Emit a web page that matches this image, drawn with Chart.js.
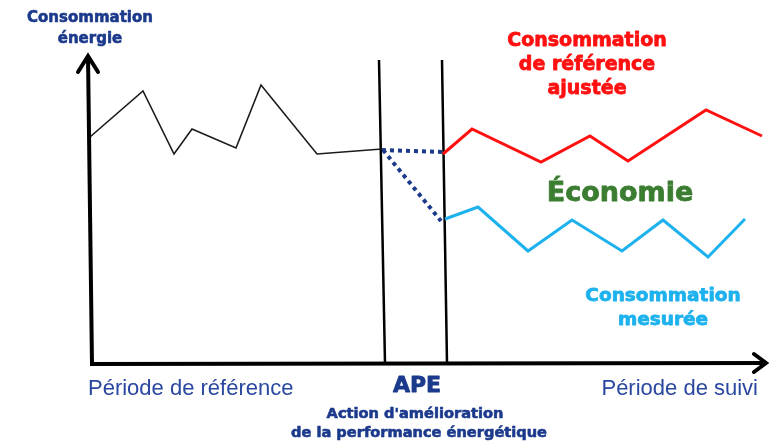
<!DOCTYPE html>
<html>
<head>
<meta charset="utf-8">
<script src="https://cdn.jsdelivr.net/npm/chart.js@4"></script>
<style>
  html, body { margin: 0; padding: 0; background: #ffffff; }
  #wrap { width: 769px; height: 441px; position: relative; }
</style>
</head>
<body>
<div id="wrap"><canvas id="c" width="769" height="441"></canvas></div>
<script>
// Time (x) and energy consumption (y) (arbitrary units)
const baselineX = [0, 53, 84, 102, 146, 171, 227, 292];
const baselineY = [226, 272, 209, 234, 215, 278, 209, 214];

const adjustedX = [353, 382, 451, 500, 538, 616, 672];
const adjustedY = [209, 234, 201, 227, 202, 253, 227];

const measuredX = [355, 388, 438, 482, 532, 573, 618, 655];
const measuredY = [144, 156, 112, 143, 112, 143, 106, 144];

const projFlatX = [292, 352];
const projFlatY = [213, 211];
const projDropX = [293, 351];
const projDropY = [213, 142];

const apeStartX = [289, 295];
const apeStartY = [303, 0];
const apeEndX = [352, 357];
const apeEndY = [303, 0];

const xMax = 678;
const yMax = 308;

const yAxisTitle = ["Consommation", "énergie"];
const adjustedLabel = ["Consommation", "de référence", "ajustée"];
const savingLabel = "Économie";
const measuredLabel = ["Consommation", "mesurée"];
const refPeriodLabel = "Période de référence";
const followPeriodLabel = "Période de suivi";
const apeLabel = "APE";
const apeDesc = ["Action d'amélioration", "de la performance énergétique"];

function pts(xs, ys) { return xs.map((x, i) => ({ x: x, y: ys[i] })); }

const NAVY = '#1c3a8c';
const RED = '#ff1010';
const SKY = '#1db2ee';
const GREEN = '#3b7d31';

function heavyText(ctx, t, x, y, color, w) {
  ctx.fillStyle = color;
  ctx.strokeStyle = color;
  ctx.lineWidth = w;
  ctx.lineJoin = 'round';
  ctx.fillText(t, x, y);
  ctx.strokeText(t, x, y);
}

const decor = {
  id: 'decor',
  afterDatasetsDraw(chart) {
    const ctx = chart.ctx;
    const xs = chart.scales.x, ys = chart.scales.y;
    const x0 = xs.getPixelForValue(0), y0 = ys.getPixelForValue(0);
    const xEnd = xs.getPixelForValue(xMax), yTop = ys.getPixelForValue(yMax);
    ctx.save();
    // axes
    ctx.strokeStyle = '#000';
    ctx.lineWidth = 4;
    ctx.lineCap = 'butt';
    ctx.lineJoin = 'miter';
    ctx.beginPath();
    ctx.moveTo(x0 + 2, y0 + 2);
    ctx.lineTo(x0 - 2, yTop + 1);
    ctx.stroke();
    ctx.beginPath();
    ctx.moveTo(x0, y0 + 1);
    ctx.lineTo(xEnd - 2, y0);
    ctx.stroke();
    // arrow heads
    ctx.lineWidth = 4;
    ctx.lineCap = 'round';
    ctx.beginPath();
    ctx.moveTo(x0 - 12, yTop + 17);
    ctx.lineTo(x0 - 2, yTop + 1);
    ctx.lineTo(x0 + 8, yTop + 17);
    ctx.stroke();
    ctx.beginPath();
    ctx.moveTo(xEnd - 14, y0 - 9);
    ctx.lineTo(xEnd - 2, y0);
    ctx.lineTo(xEnd - 14, y0 + 9);
    ctx.stroke();

    // texts
    ctx.textAlign = 'center';
    ctx.textBaseline = 'alphabetic';
    ctx.font = 'bold 15px "DejaVu Sans"';
    heavyText(ctx, yAxisTitle[0], 90, 22, NAVY, 0.6);
    heavyText(ctx, yAxisTitle[1], 90, 43, NAVY, 0.6);

    ctx.font = 'bold 19px "DejaVu Sans"';
    adjustedLabel.forEach((t, i) => heavyText(ctx, t, 587, 46 + i * 24, RED, 0.8));

    ctx.font = 'bold 27px "DejaVu Sans"';
    heavyText(ctx, savingLabel, 620, 201, GREEN, 0.8);

    ctx.font = 'bold 18.5px "DejaVu Sans"';
    heavyText(ctx, measuredLabel[0], 663, 301, SKY, 0.8);
    heavyText(ctx, measuredLabel[1], 663, 325, SKY, 0.8);

    ctx.fillStyle = '#2a48a0';
    ctx.font = '22px "Liberation Sans"';
    ctx.textAlign = 'left';
    ctx.fillText(refPeriodLabel, 88, 395);
    ctx.textAlign = 'right';
    ctx.fillText(followPeriodLabel, 758, 395);

    ctx.textAlign = 'center';
    ctx.font = 'bold 22px "DejaVu Sans"';
    heavyText(ctx, apeLabel, 417, 392, NAVY, 0.8);
    ctx.font = 'bold 14.6px "DejaVu Sans"';
    heavyText(ctx, apeDesc[0], 415, 418, NAVY, 0.6);
    heavyText(ctx, apeDesc[1], 419, 437, NAVY, 0.6);
    ctx.restore();
  }
};

new Chart(document.getElementById('c'), {
  type: 'line',
  data: {
    datasets: [
      { data: pts(baselineX, baselineY), borderColor: '#1a1a1a', borderWidth: 1.6, pointRadius: 0, tension: 0 },
      { data: pts(adjustedX, adjustedY), borderColor: RED, borderWidth: 3, pointRadius: 0, tension: 0 },
      { data: pts(measuredX, measuredY), borderColor: SKY, borderWidth: 3, pointRadius: 0, tension: 0 },
      { data: pts(projFlatX, projFlatY), borderColor: NAVY, borderWidth: 4, borderDash: [4, 4], pointRadius: 0 },
      { data: pts(projDropX, projDropY), borderColor: NAVY, borderWidth: 4, borderDash: [4, 4], pointRadius: 0 },
      { data: pts(apeStartX, apeStartY), borderColor: '#000', borderWidth: 2.5, pointRadius: 0 },
      { data: pts(apeEndX, apeEndY), borderColor: '#000', borderWidth: 2.5, pointRadius: 0 }
    ]
  },
  options: {
    responsive: false,
    animation: false,
    devicePixelRatio: 1,
    layout: { padding: { left: 90, right: 1, top: 55, bottom: 78 } },
    plugins: { legend: { display: false }, tooltip: { enabled: false } },
    elements: { line: { fill: false } },
    scales: {
      x: { type: 'linear', min: 0, max: xMax, display: false },
      y: { type: 'linear', min: 0, max: yMax, display: false }
    }
  },
  plugins: [decor]
});
</script>
</body>
</html>
